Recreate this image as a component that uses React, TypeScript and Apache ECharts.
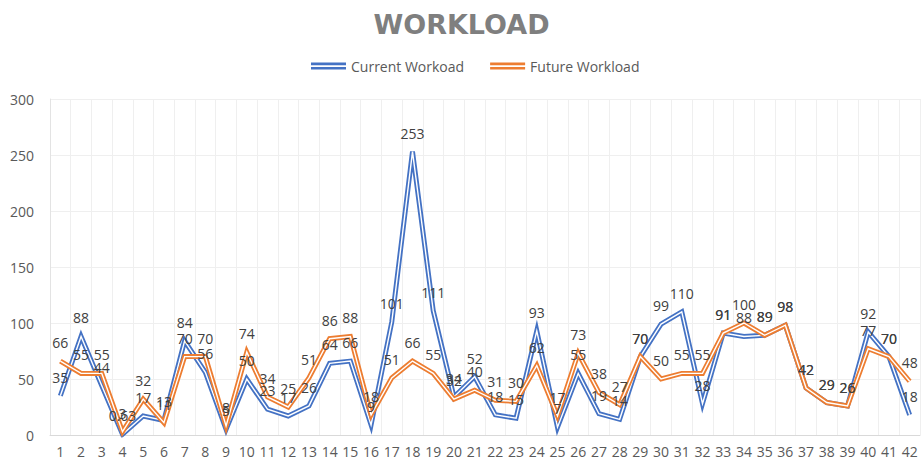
import React, { useEffect, useRef } from "react";
import * as echarts from "echarts";

const categories = Array.from({ length: 42 }, (_, i) => String(i + 1));
const currentWorkload = [35, 88, 44, 0.63, 17, 13, 84, 56, 5, 50, 23, 17, 26, 64, 66, 9, 101, 253, 111, 34, 52, 18, 15, 93, 7, 55, 19, 14, 70, 99, 110, 28, 91, 88, 89, 98, 42, 29, 26, 92, 70, 18];
const futureWorkload = [66, 55, 55, 3, 32, 11, 70, 70, 8, 74, 34, 25, 51, 86, 88, 18, 51, 66, 55, 32, 40, 31, 30, 62, 17, 73, 38, 27, 70, 50, 55, 55, 91, 100, 89, 98, 42, 29, 26, 77, 70, 48];

const BLUE = "#4472C4";
const ORANGE = "#ED7D31";
const FONT = "'Open Sans', 'Noto Sans', sans-serif";
const doubleIcon = "path://M0,0H40V3H0Z M0,5H40V8H0Z";

export default function App() {
  const ref = useRef<HTMLDivElement>(null);
  useEffect(() => {
    if (!ref.current) return;
    const chart = echarts.init(ref.current, undefined, { renderer: "svg" });
    const mainSeries = (name: string, data: number[], color: string, z: number) => ({
      name,
      type: "line",
      data,
      symbol: "none",
      lineStyle: { color, width: 5, join: "miter", miterLimit: 6 },
      itemStyle: { color },
      z,
    });
    const whiteSeries = (name: string, data: number[], z: number) => ({
      name: name + " inner",
      type: "line",
      data,
      symbol: "none",
      silent: true,
      lineStyle: { color: "#ffffff", width: 1.4, join: "miter", miterLimit: 6 },
      z,
    });
    const labelSeries = (name: string, data: number[]) => ({
      name: name + " labels",
      type: "line",
      data,
      symbol: "circle",
      symbolSize: 1,
      showSymbol: true,
      silent: true,
      lineStyle: { width: 0, opacity: 0 },
      itemStyle: { color: "transparent" },
      label: {
        show: true,
        position: "top",
        distance: 11,
        color: "#404040",
        fontSize: 14,
        fontFamily: FONT,
      },
      z: 10,
    });
    chart.setOption({
      animation: false,
      backgroundColor: "#ffffff",
      title: {
        text: "WORKLOAD",
        left: "center",
        top: 6,
        textStyle: {
          fontFamily: "'DejaVu Sans', sans-serif",
          fontWeight: "bold",
          fontSize: 27,
          color: "#7f7f7f",
        },
      },
      legend: {
        data: [
          { name: "Current Workoad", icon: doubleIcon, itemStyle: { color: BLUE } },
          { name: "Future Workload", icon: doubleIcon, itemStyle: { color: ORANGE } },
        ],
        top: 54,
        left: 306,
        itemWidth: 35,
        itemHeight: 7,
        itemGap: 26,
        textStyle: { color: "#595959", fontSize: 14, fontFamily: FONT },
      },
      grid: { left: 50, right: 3, top: 99, bottom: 26 },
      xAxis: {
        type: "category",
        data: categories,
        boundaryGap: true,
        axisLine: { lineStyle: { color: "#d9d9d9" } },
        axisTick: { show: false },
        axisLabel: { color: "#595959", fontSize: 14, fontFamily: FONT, interval: 0, margin: 9 },
        splitLine: { show: true, interval: 0, lineStyle: { color: "#efefef" } },
      },
      yAxis: {
        type: "value",
        min: 0,
        max: 300,
        interval: 50,
        axisLine: { show: true, lineStyle: { color: "#e3e3e3" } },
        axisTick: { show: false },
        axisLabel: { color: "#595959", fontSize: 14, fontFamily: FONT, margin: 16 },
        splitLine: { lineStyle: { color: "#efefef" } },
      },
      series: [
        mainSeries("Current Workoad", currentWorkload, BLUE, 2),
        whiteSeries("Current Workoad", currentWorkload, 3),
        mainSeries("Future Workload", futureWorkload, ORANGE, 4),
        whiteSeries("Future Workload", futureWorkload, 5),
        labelSeries("Current Workoad", currentWorkload),
        labelSeries("Future Workload", futureWorkload),
      ],
    });
    return () => chart.dispose();
  }, []);
  return <div ref={ref} style={{ position: "fixed", left: 0, top: 0, width: 923, height: 461 }} />;
}
